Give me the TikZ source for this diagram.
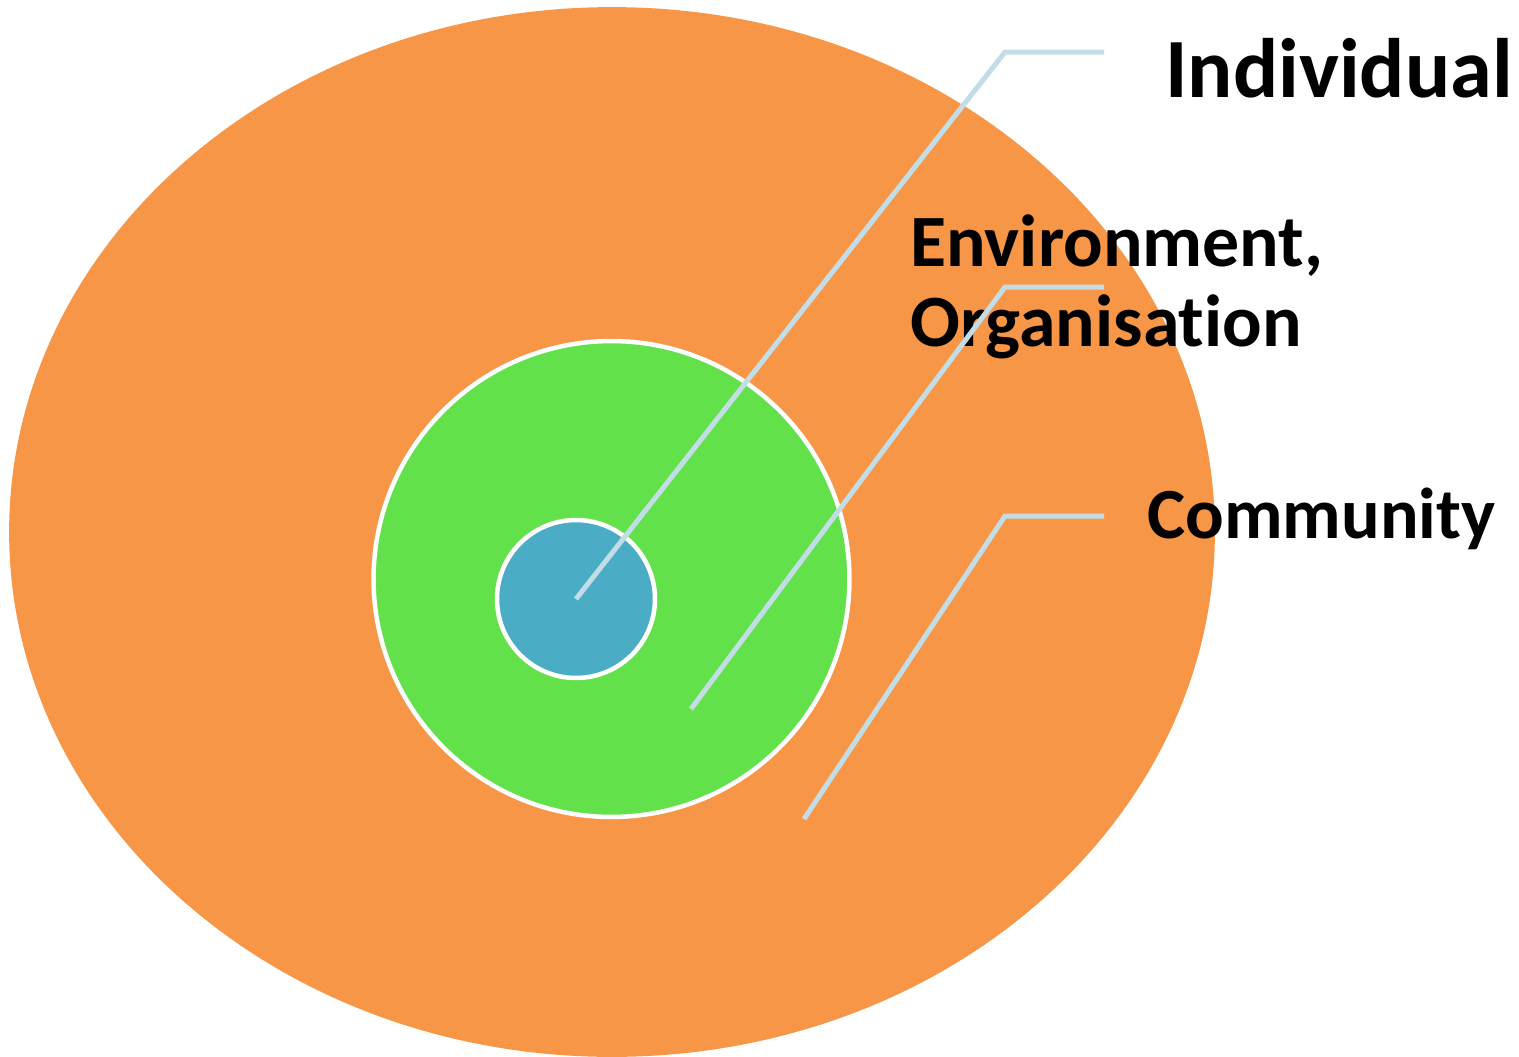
\documentclass[tikz,border=0pt]{standalone}
\usepackage{fontspec}
\setmainfont{Carlito}[Ligatures=NoCommon]
\usepackage{tikz}
\usetikzlibrary{shapes.geometric, positioning}
\definecolor{commcol}{RGB}{247,150,70}
\definecolor{envcol}{RGB}{98,225,74}
\definecolor{indcol}{RGB}{75,172,198}
\definecolor{leadcol}{RGB}{195,221,230}

\begin{document}
\begin{tikzpicture}[
    x=0.02cm, y=-0.02cm,
    ring/.style={circle, draw=white, line width=0.09cm, inner sep=0pt, outer sep=0pt},
    leader/.style={draw=leadcol, line width=0.1cm},
    lbl/.style={font=\bfseries\fontsize{42}{46}\selectfont, inner sep=0pt, align=left}
  ]
  \useasboundingbox (0,0) rectangle (1519,1056);
  % three nested zones
  \node[ellipse, fill=commcol, minimum width=24.12cm, minimum height=21cm,
        inner sep=0pt] (community) at (612,532) {};
  \node[ring, fill=envcol, minimum size=9.52cm] (environment) at (611.5,579) {};
  \node[ring, fill=indcol, minimum size=3.16cm] (individual) at (576,599) {};

  % labels
  \node[lbl, font=\bfseries\fontsize{48}{50}\selectfont, anchor=base west]
    (indlabel) at (1165,97) {Individual};
  \node[lbl, anchor=north west] (envlabel) at (910,214) {Environment,\\Organisation};
  \node[lbl, font=\bfseries\fontsize{41}{46}\selectfont, anchor=base west]
    (comlabel) at (1147,538) {Community};

  % leader lines
  \coordinate (indbend) at (1005,52);
  \coordinate (indend)  at (1104,52);
  \coordinate (envfoot) at (691,709);
  \coordinate (envbend) at (1005,287);
  \coordinate (envend)  at (1104,287);
  \coordinate (comfoot) at (804,819);
  \coordinate (combend) at (1005,516);
  \coordinate (comend)  at (1104,516);
  \draw[leader] (individual.center) -- (indbend) -- (indend);
  \draw[leader] (envfoot) -- (envbend) -- (envend);
  \draw[leader] (comfoot) -- (combend) -- (comend);
\end{tikzpicture}
\end{document}
